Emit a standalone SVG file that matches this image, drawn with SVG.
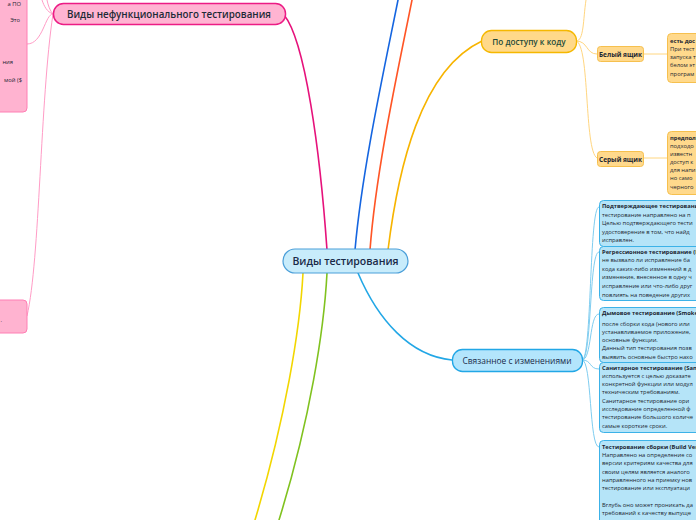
<svg xmlns="http://www.w3.org/2000/svg" width="696" height="520" viewBox="0 0 696 520">
<style>
text{font-family:"Open Sans","Noto Sans","DejaVu Sans",sans-serif;}
.br{fill:none;stroke-width:1.6;stroke-linecap:round}
.sub{fill:none;stroke-width:1}
.pinkbox{fill:#ffb3d0;stroke:#ff7fb4;stroke-width:1}
.orbox{fill:#ffd98c;stroke:#f6c04e;stroke-width:1}
.bluebox{fill:#b5e4f8;stroke:#3cb2e8;stroke-width:1}
.small{font-size:5.8px;fill:#1b2530}
.smallb{font-size:5.8px;fill:#1b2530;font-weight:700}
.lbl{font-size:6.5px;fill:#1b2530;font-weight:700}
</style>
<rect width="696" height="520" fill="#ffffff"/>
<g id="connectors">
  <path class="br" stroke="#e6127b" d="M327,250 C320,150 305,40 284,15"/>
  <path class="br" stroke="#1565e0" d="M355,250 C362,170 384,70 398,0"/>
  <path class="br" stroke="#ff5526" d="M370,250 C376,170 398,70 412,0"/>
  <path class="br" stroke="#f7b400" d="M388,250 C398,170 420,70 482,41"/>
  <path class="br" stroke="#22a7e6" d="M358,273 C378,320 410,356 452,360"/>
  <path class="br" stroke="#f2d600" d="M303,273 C300,330 285,420 255,520"/>
  <path class="br" stroke="#80c21f" d="M327,273 C324,330 310,420 279,520"/>
  <path class="sub" stroke="#ff9cc6" d="M53,14 C45,14 43,44 27,44"/>
  <path class="sub" stroke="#ff9cc6" d="M53,14 C47,12 44,6 42,0"/>
  <path class="sub" stroke="#ff9cc6" d="M53,14 C50,11 48,5 47,0"/>
  <path class="sub" stroke="#ff9cc6" d="M53,14 C40,100 40,260 27,316"/>
  <path class="sub" stroke="#ffd680" d="M576,41 C584,41 583,20 586,0"/>
  <path class="sub" stroke="#ffd680" d="M576,41 C588,41 586,54 597,54"/>
  <path class="sub" stroke="#ffd680" d="M576,41 C590,45 584,150 597,158"/>
  <path class="sub" stroke="#ffd680" d="M643,54 L667,54"/>
  <path class="sub" stroke="#ffd680" d="M643,158 L667,158"/>
  <path class="sub" stroke="#7fcdf0" d="M582,360 C592,360 589,207 599,207"/>
  <path class="sub" stroke="#7fcdf0" d="M582,360 C592,360 589,252 599,252"/>
  <path class="sub" stroke="#7fcdf0" d="M582,360 C592,360 589,314 599,314"/>
  <path class="sub" stroke="#7fcdf0" d="M582,360 C592,360 589,369 599,369"/>
  <path class="sub" stroke="#7fcdf0" d="M582,360 C592,360 589,447 599,447"/>
</g>
<g id="center">
  <rect x="283" y="249" width="125" height="24" rx="12" fill="#c8ecfb" stroke="#4b9fd9" stroke-width="1.2"/>
  <text x="345.5" y="265" text-anchor="middle" font-size="10.5" font-weight="600" fill="#1a2a48">Виды тестирования</text>
</g>
<g id="nonfunc">
  <rect x="53.5" y="3.5" width="232" height="21" rx="10" fill="#ffb4d2" stroke="#ec1c85" stroke-width="1.5"/>
  <text x="169" y="18" text-anchor="middle" font-size="9.8" font-weight="600" fill="#1d2b36">Виды нефункционального тестирования</text>
</g>
<g id="pink-top">
  <rect class="pinkbox" x="-10" y="-10" width="37" height="122" rx="4"/>
  <text class="small" x="21" y="6" text-anchor="end">а ПО</text>
  <text class="small" x="20" y="22" text-anchor="end">Это</text>
  <text class="small" x="13" y="64" text-anchor="end">ния</text>
  <text class="small" x="22" y="82" text-anchor="end">мой ($</text>
</g>
<g id="pink-bottom">
  <rect class="pinkbox" x="-10" y="300" width="37" height="33" rx="4"/>
  <text class="small" x="2" y="322" text-anchor="end">.</text>
</g>
<g id="access">
  <rect x="481.5" y="30.5" width="95" height="22" rx="10" fill="#ffd98a" stroke="#f5b800" stroke-width="1.3"/>
  <text x="529" y="44.5" text-anchor="middle" font-size="8.2" font-weight="600" fill="#1f4a3a">По доступу к коду</text>
</g>
<g id="white">
  <rect class="orbox" x="597.5" y="46.5" width="46" height="15" rx="3"/>
  <text class="lbl" x="620.5" y="56.5" text-anchor="middle">Белый ящик</text>
</g>
<g id="white-detail">
  <rect class="orbox" x="667.5" y="33.5" width="40" height="49" rx="4"/>
  <text class="smallb" x="670" y="43">есть дос</text>
  <text class="small" x="670" y="51">При тест</text>
  <text class="small" x="670" y="59">запуска т</text>
  <text class="small" x="670" y="67">белом эт</text>
  <text class="small" x="670" y="76">програм</text>
</g>
<g id="grey">
  <rect class="orbox" x="597.5" y="151.5" width="46" height="15" rx="3"/>
  <text class="lbl" x="620.5" y="161.5" text-anchor="middle">Серый ящик</text>
</g>
<g id="grey-detail">
  <rect class="orbox" x="667.5" y="131.5" width="40" height="63" rx="4"/>
  <text class="smallb" x="670" y="140">предпол</text>
  <text class="small" x="670" y="148">подходо</text>
  <text class="small" x="670" y="156">известн</text>
  <text class="small" x="670" y="164">доступ к</text>
  <text class="small" x="670" y="172">для напи</text>
  <text class="small" x="670" y="180">но само</text>
  <text class="small" x="670" y="189">черного</text>
</g>
<g id="changes">
  <rect x="452.5" y="349.5" width="130" height="22" rx="10" fill="#b3e5fc" stroke="#22a7e6" stroke-width="1.3"/>
  <text x="517" y="363.5" text-anchor="middle" font-size="8.4" fill="#1a2a48">Связанное с изменениями</text>
</g>
<g id="confirm">
  <rect class="bluebox" x="599.5" y="200.5" width="110" height="46" rx="4"/>
  <text class="smallb" x="602" y="208">Подтверждающее тестирование</text>
  <text class="small" x="602" y="217">тестирование направлено на п</text>
  <text class="small" x="602" y="225">Целью подтверждающего тести</text>
  <text class="small" x="602" y="234">удостоверение в том, что найд</text>
  <text class="small" x="602" y="242">исправлен.</text>
</g>
<g id="regress">
  <rect class="bluebox" x="599.5" y="246.5" width="110" height="54" rx="4"/>
  <text class="smallb" x="602" y="254">Регрессионное тестирование (R</text>
  <text class="small" x="602" y="262">не вызвало ли исправление ба</text>
  <text class="small" x="602" y="271">кода каких-либо изменений в д</text>
  <text class="small" x="602" y="279">изменение, внесенное в одну ч</text>
  <text class="small" x="602" y="288">исправление или что-либо друг</text>
  <text class="small" x="602" y="297">повлиять на поведение других</text>
</g>
<g id="smoke">
  <rect class="bluebox" x="599.5" y="307.5" width="110" height="55" rx="4"/>
  <text class="smallb" x="602" y="315">Дымовое тестирование (Smoke</text>
  <text class="small" x="602" y="326"> после сборки кода (нового или</text>
  <text class="small" x="602" y="334">устанавливаемое приложение,</text>
  <text class="small" x="602" y="342">основные функции.</text>
  <text class="small" x="602" y="350">Данный тип тестирования позв</text>
  <text class="small" x="602" y="359">выявить основные быстро нахо</text>
</g>
<g id="sanity">
  <rect class="bluebox" x="599.5" y="362.5" width="110" height="70" rx="4"/>
  <text class="smallb" x="602" y="370">Санитарное тестирование (San</text>
  <text class="small" x="602" y="378">используется с целью доказате</text>
  <text class="small" x="602" y="386">конкретной функции или модул</text>
  <text class="small" x="602" y="394">техническим требованиям.</text>
  <text class="small" x="602" y="403">Санитарное тестирование ори</text>
  <text class="small" x="602" y="411">исследование определенной ф</text>
  <text class="small" x="602" y="419">тестирование большого количе</text>
  <text class="small" x="602" y="428">самые короткие сроки.</text>
</g>
<g id="build">
  <rect class="bluebox" x="599.5" y="440.5" width="110" height="90" rx="4"/>
  <text class="smallb" x="602" y="449">Тестирование сборки (Build Veri</text>
  <text class="small" x="602" y="457">Направлено на определение со</text>
  <text class="small" x="602" y="465">версии критериям качества для</text>
  <text class="small" x="602" y="474">своим целям является аналого</text>
  <text class="small" x="602" y="482">направленного на приемку нов</text>
  <text class="small" x="602" y="490">тестирование или эксплуатаци</text>
  <text class="small" x="602" y="507">Вглубь оно может проникать да</text>
  <text class="small" x="602" y="515">требований к качеству выпуще</text>
</g>
</svg>
